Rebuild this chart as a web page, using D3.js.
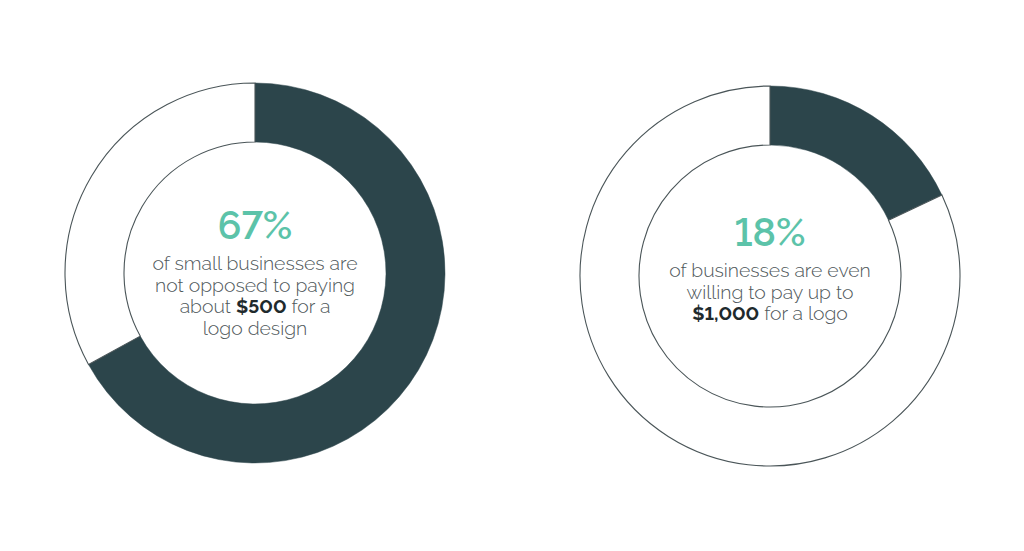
<!DOCTYPE html>
<html>
<head>
<meta charset="utf-8">
<script src="https://cdn.jsdelivr.net/npm/d3@7"></script>
<style>
html,body{margin:0;padding:0;background:#fff;}
svg{display:block;}
text{font-variant-numeric:lining-nums;font-feature-settings:"lnum" 1;}
</style>
</head>
<body>
<svg id="chart" width="1024" height="551"></svg>
<script>
// ---- data ----
const percentLabels = ["67%", "18%"];
const percentValues = [67, 18];
const descriptionLines = [
  [["of small businesses are"], ["not opposed to paying"], ["about ", "$500", " for a"], ["logo design"]],
  [["of businesses are even"], ["willing to pay up to"], ["", "$1,000", " for a logo"]]
];

// ---- layout ----
const W = 1024, H = 551;
const centers = [{x: 255, y: 273}, {x: 770, y: 276}];
const outerR = 190, innerR = 131;
const dark = "#2c454b", teal = "#5cc3a9", bodyCol = "#4f585b", boldCol = "#1f2a2d";
const fontFam = "Raleway, Lato, 'Open Sans', sans-serif";

const svg = d3.select("#chart");
const pie = d3.pie().sort(null).value(d => d);
const arc = d3.arc().innerRadius(innerR).outerRadius(outerR);

percentValues.forEach((v, i) => {
  const g = svg.append("g").attr("transform", `translate(${centers[i].x},${centers[i].y})`);
  const arcs = pie([v, 100 - v]);
  g.selectAll("path").data(arcs).join("path")
    .attr("d", arc)
    .attr("fill", (d, j) => j === 0 ? dark : "#ffffff")
    .attr("stroke", (d, j) => j === 0 ? dark : "#4a5558")
    .attr("stroke-width", (d, j) => j === 0 ? 0.5 : 1.1);

  const lines = descriptionLines[i];
  const bigBase = i === 0 ? -34 : -30;
  g.append("text")
    .attr("x", 0).attr("y", bigBase)
    .attr("text-anchor", "middle")
    .attr("font-family", fontFam)
    .attr("font-size", 39)
    .attr("font-weight", 600)
    .attr("fill", teal)
    .text(percentLabels[i]);

  const firstBase = i === 0 ? -3 : 1;
  const lh = 21.5;
  lines.forEach((parts, k) => {
    const t = g.append("text")
      .attr("x", 0).attr("y", firstBase + k * lh)
      .attr("text-anchor", "middle")
      .attr("font-family", fontFam)
      .attr("font-size", 19.4)
      .attr("fill", bodyCol);
    parts.forEach((p, m) => {
      if (p === "") return;
      t.append("tspan")
        .attr("font-weight", m === 1 ? 700 : 300)
        .attr("fill", m === 1 ? boldCol : bodyCol)
        .text(p);
    });
  });
});
</script>
</body>
</html>
